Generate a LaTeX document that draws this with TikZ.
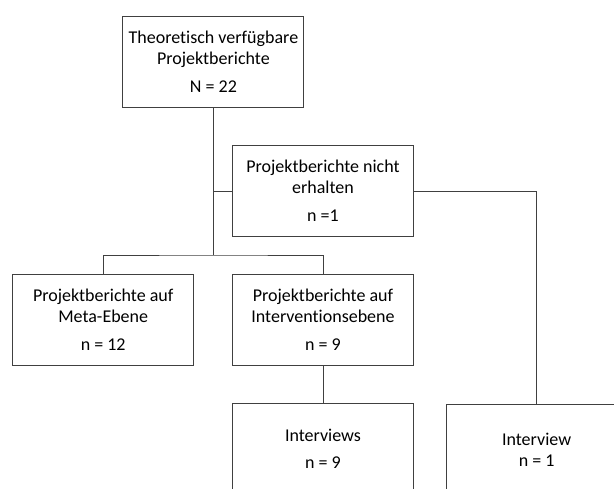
\documentclass[tikz,border=0pt]{standalone}
\usepackage{fontspec}
\setmainfont{Carlito}[Ligatures=NoCommon]

\begin{document}
\begin{tikzpicture}[x=1pt, y=-1pt,
    line width = 0.9pt,
    draw = black!75,
    box/.style = {
      draw = black!75,
      fill = white,
      rectangle,
      align = center,
      inner sep = 0pt,
      minimum width = 181pt,
      minimum height = 91pt,
      font = \fontsize{18}{21}\selectfont
    }
  ]
  \useasboundingbox (0,0) rectangle (614,488);
  \clip (0,0) rectangle (614,488);

  \node[box] (total)   at (213.4,61.5) {Theoretisch verfügbare\\Projektberichte\\[7pt]N = 22};
  \node[box] (missing) at (323,191.2)  {Projektberichte nicht\\erhalten\\[7pt]n =1};

  \node[box] (meta)    at (103.2,320)  {Projektberichte auf\\Meta-Ebene\\[7pt]n = 12};
  \node[box] (interv)  at (323,320)    {Projektberichte auf\\Interventionsebene\\[7pt]n = 9};

  \node[box] (intvs)   at (323,449)    {Interviews\\[6pt]n = 9};
  \node[box] (intv)    at (536.6,449.5) {Interview\\n = 1};

  \coordinate (split) at (213.4,255);
  \coordinate (turn)  at (536.6,191.2);

  \draw (total.south) -- (split);
  \draw (total.south |- missing.west) -- (missing.west);
  \draw (meta.north) |- (split) -| (interv.north);
  \draw (missing.east) -- (turn) -- (intv.north);
  \draw (interv.south) -- (intvs.north);
\end{tikzpicture}
\end{document}
